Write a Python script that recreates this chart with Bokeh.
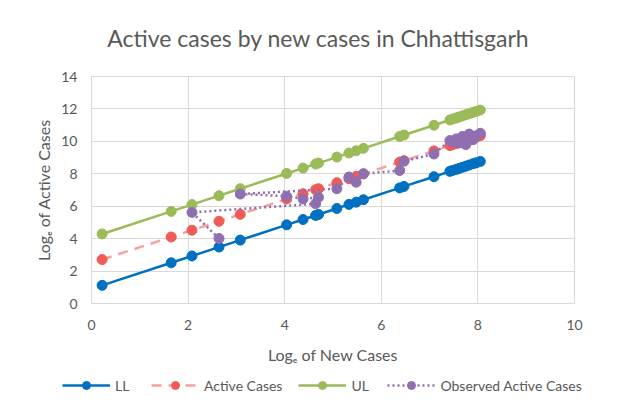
from bokeh.plotting import figure
from bokeh.layouts import column
from bokeh.models import Range1d, Legend, LegendItem, FixedTicker, Label
from bokeh.embed import file_html
from bokeh.resources import INLINE

# ---- data ----
log_new = [0.22, 1.65, 2.08, 2.64, 3.08, 4.04, 4.38, 4.64, 4.70, 5.08, 5.33, 5.48, 5.63,
           6.38, 6.47, 7.09, 7.42, 7.48, 7.55, 7.61, 7.68, 7.75, 7.82, 7.90, 7.97, 8.05]
ll = [1.12, 2.51, 2.93, 3.48, 3.91, 4.85, 5.18, 5.43, 5.49, 5.86, 6.11, 6.25, 6.40,
      7.13, 7.22, 7.82, 8.15, 8.21, 8.27, 8.33, 8.40, 8.47, 8.54, 8.62, 8.68, 8.76]
active = [2.71, 4.10, 4.52, 5.07, 5.50, 6.44, 6.77, 7.02, 7.08, 7.45, 7.70, 7.84, 7.99,
          8.72, 8.81, 9.41, 9.74, 9.80, 9.86, 9.92, 9.99, 10.06, 10.13, 10.21, 10.27, 10.35]
ul = [4.29, 5.68, 6.10, 6.65, 7.08, 8.02, 8.35, 8.60, 8.66, 9.03, 9.28, 9.42, 9.57,
      10.30, 10.39, 10.99, 11.32, 11.38, 11.44, 11.50, 11.57, 11.64, 11.71, 11.79, 11.85, 11.93]
obs_x = [2.64, 2.08, 4.64, 4.70, 4.38, 4.04, 3.08, 5.08, 5.33, 5.48, 5.63, 6.38, 6.47,
         7.09, 7.42, 7.48, 7.55, 7.61, 7.68, 7.75, 7.82, 7.90, 7.97, 8.05]
obs_y = [4.01, 5.62, 6.15, 6.55, 6.45, 6.62, 6.75, 7.08, 7.80, 7.48, 8.00, 8.20, 8.78,
         9.22, 10.05, 9.95, 10.15, 9.90, 10.30, 9.80, 10.45, 10.10, 10.35, 10.50]
x_ticks = [0, 2, 4, 6, 8, 10]
y_ticks = [0, 2, 4, 6, 8, 10, 12, 14]
series_names = ["LL", "Active Cases", "UL", "Observed Active Cases"]
title_text = "Active cases by new cases in Chhattisgarh"

FONT = "Lato"
TXT = "#595959"
GRID = "#d9d9d9"

BLUE = "#0070C0"
RED = "#F15B55"
RED_L = "#F5A29D"
GREEN = "#9BBB59"
PURPLE = "#8F6FB0"

W = 614

# ---- title strip ----
p0 = figure(width=W, height=56, output_backend="svg", toolbar_location=None,
            x_range=Range1d(0, W), y_range=Range1d(0, 56),
            x_axis_location=None, y_axis_location=None, min_border=0,
            title_location=None, frame_align=False)
p0.grid.visible = False
p0.outline_line_color = None
p0.add_layout(Label(x=318, y=19, text=title_text, text_align="center", text_baseline="middle",
                    text_font=FONT, text_font_size="23px", text_color=TXT))

# ---- main chart ----
p = figure(frame_width=483, frame_height=227, output_backend="svg", toolbar_location=None,
           x_range=Range1d(0, 10), y_range=Range1d(0, 14), title_location=None,
           min_border_left=91, min_border_right=40, min_border_top=20, min_border_bottom=64)

p.outline_line_color = GRID
p.xgrid.grid_line_color = GRID
p.ygrid.grid_line_color = GRID
p.xaxis.ticker = FixedTicker(ticks=x_ticks)
p.yaxis.ticker = FixedTicker(ticks=y_ticks)
for ax in (p.xaxis[0], p.yaxis[0]):
    ax.axis_line_color = None
    ax.major_tick_line_color = None
    ax.minor_tick_line_color = None
    ax.major_tick_out = 0
    ax.major_tick_in = 0
    ax.major_label_text_font = FONT
    ax.major_label_text_font_size = "14px"
    ax.major_label_text_color = TXT
    ax.axis_label_text_font = FONT
    ax.axis_label_text_font_size = "16px"
    ax.axis_label_text_font_style = "normal"
    ax.axis_label_text_color = TXT
p.xaxis.major_label_standoff = 16
p.yaxis.major_label_standoff = 14
p.xaxis.axis_label = "Logₑ of New Cases"
p.yaxis.axis_label = "Logₑ of Active Cases"
p.xaxis.axis_label_standoff = 12
p.yaxis.axis_label_standoff = 5

p.line(log_new, ll, line_color=BLUE, line_width=2.5)
p.scatter(log_new, ll, size=10, fill_color=BLUE, line_color=BLUE)
p.line(log_new, active, line_color=RED_L, line_width=2.5, line_dash="10 7")
p.scatter(log_new, active, size=10, fill_color=RED, line_color=RED)
p.line(log_new, ul, line_color=GREEN, line_width=2.5)
p.scatter(log_new, ul, size=10, fill_color=GREEN, line_color=GREEN)
p.line(obs_x, obs_y, line_color=PURPLE, line_width=2.5, line_dash="2 3")
p.scatter(obs_x, obs_y, size=10, fill_color=PURPLE, line_color=PURPLE)

# ---- legend strip (series re-used with the same styles, outside its view) ----
p2 = figure(width=W, height=34, output_backend="svg", toolbar_location=None,
            x_range=Range1d(100, 101), y_range=Range1d(100, 101),
            x_axis_location=None, y_axis_location=None, min_border=0,
            title_location=None, frame_align=False)
p2.grid.visible = False
p2.outline_line_color = None
series = [(log_new, ll, BLUE, BLUE, None), (log_new, active, RED_L, RED, "10 7"),
          (log_new, ul, GREEN, GREEN, None), (obs_x, obs_y, PURPLE, PURPLE, "2 3")]
items = []
for name, (xs, ys, lc, mc, dash) in zip(series_names, series):
    kw = {"line_dash": dash} if dash else {}
    lr = p2.line(xs, ys, line_color=lc, line_width=2.5, **kw)
    sr = p2.scatter(xs, ys, size=10, fill_color=mc, line_color=mc)
    items.append(LegendItem(label=name, renderers=[lr, sr]))
legend = Legend(items=items, orientation="horizontal", nrows=1, location=(62, 6),
                glyph_width=48, glyph_height=20, label_standoff=5, spacing=16,
                label_text_font=FONT, label_text_font_size="14px", label_text_color=TXT,
                border_line_color=None, background_fill_alpha=0, padding=0, margin=0)
p2.add_layout(legend)

layout = column(p0, p, p2, spacing=0)
open("out.html", "w").write(file_html(layout, INLINE))
